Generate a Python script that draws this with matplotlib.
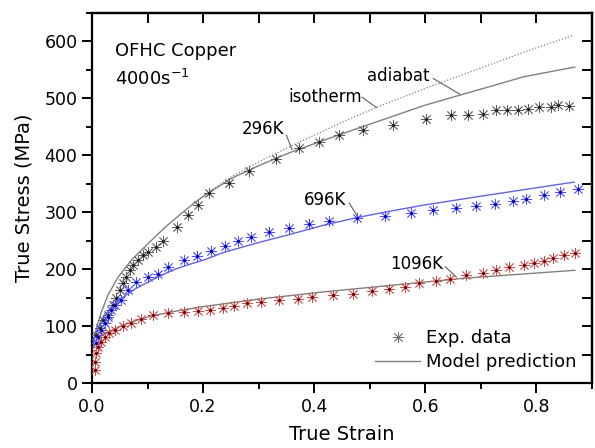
"""
True stress vs true strain for OFHC copper at 4000/s: experimental points
and model predictions at three temperatures.
"""

import matplotlib

matplotlib.use("Agg")
import matplotlib.pyplot as plt
from matplotlib.lines import Line2D
from matplotlib.ticker import MultipleLocator, FormatStrFormatter, NullFormatter

plt.rcParams["font.family"] = ["DejaVu Sans"]

# Experimental data (true strain, true stress in MPa)
strain_296 = [0.008, 0.014, 0.020, 0.029, 0.038, 0.044, 0.050, 0.056, 0.062, 0.068,
              0.074, 0.083, 0.092, 0.101, 0.116, 0.128, 0.153, 0.172, 0.190, 0.211,
              0.247, 0.283, 0.332, 0.373, 0.409, 0.445, 0.488, 0.541, 0.602, 0.646,
              0.676, 0.703, 0.727, 0.747, 0.767, 0.785, 0.804, 0.826, 0.838, 0.858]
stress_296 = [85, 97, 110, 119, 137, 149, 163, 175, 186, 198,
              207, 216, 225, 230, 239, 249, 274, 296, 313, 333,
              351, 372, 393, 412, 423, 435, 444, 454, 464, 470,
              471, 473, 479, 480, 480, 482, 484, 484, 488, 487]

strain_696 = [0.008, 0.011, 0.017, 0.023, 0.029, 0.035, 0.041, 0.053, 0.065, 0.080,
              0.101, 0.119, 0.137, 0.166, 0.189, 0.214, 0.240, 0.263, 0.286, 0.319,
              0.355, 0.391, 0.427, 0.477, 0.528, 0.575, 0.613, 0.655, 0.692, 0.725,
              0.757, 0.782, 0.813, 0.842, 0.874]
stress_696 = [70, 81, 93, 105, 116, 128, 137, 146, 164, 178,
              187, 192, 203, 216, 223, 232, 241, 249, 256, 265,
              272, 279, 284, 289, 293, 298, 304, 307, 311, 314,
              319, 324, 330, 335, 340]

strain_1096 = [0.005, 0.006, 0.008, 0.011, 0.017, 0.023, 0.030, 0.041, 0.056, 0.071,
               0.089, 0.110, 0.137, 0.166, 0.191, 0.213, 0.235, 0.256, 0.279, 0.304,
               0.337, 0.371, 0.396, 0.434, 0.469, 0.504, 0.535, 0.564, 0.588, 0.620,
               0.645, 0.674, 0.703, 0.728, 0.751, 0.778, 0.796, 0.813, 0.829, 0.849,
               0.869]
stress_1096 = [23, 37, 52, 64, 72, 81, 87, 93, 100, 106,
               113, 119, 123, 125, 126, 129, 132, 136, 140, 143,
               146, 148, 151, 154, 157, 161, 165, 168, 175, 179,
               182, 189, 193, 199, 203, 207, 211, 214, 220, 224,
               228]

# Model predictions
model_strain_296 = [0.001, 0.005, 0.011, 0.017, 0.029, 0.047, 0.071, 0.101, 0.131, 0.161,
                    0.185, 0.211, 0.254, 0.303, 0.357, 0.416, 0.477, 0.537, 0.596, 0.663,
                    0.717, 0.777, 0.869]
model_stress_296 = [62, 86, 106, 125, 155, 186, 216, 245, 273, 298,
                    317, 335, 361, 383, 405, 426, 447, 467, 487, 506,
                    521, 538, 555]

iso_strain = [0.185, 0.211, 0.254, 0.303, 0.375, 0.45, 0.519, 0.609, 0.699, 0.78, 0.867]
iso_stress = [317, 336, 364, 390, 424, 458, 487, 521, 553, 582, 611]

model_strain_696 = [0.002, 0.01, 0.02, 0.035, 0.047, 0.077, 0.108, 0.144, 0.171, 0.204,
                    0.236, 0.297, 0.36, 0.416, 0.479, 0.537, 0.60, 0.699, 0.78, 0.868]
model_stress_696 = [72, 95, 115, 133, 145, 165, 181, 198, 207, 217,
                    229, 246, 262, 277, 291, 302, 313, 328, 340, 353]

model_strain_1096 = [0.001, 0.01, 0.025, 0.047, 0.077, 0.108, 0.144, 0.198, 0.297, 0.416,
                     0.533, 0.669, 0.869]
model_stress_1096 = [60, 78, 88, 98, 109, 118, 125, 134, 147, 160,
                     171, 184, 198]

star = (8, 2, 0)


def plot_exp(ax, x, y, spoke, centre):
    ax.plot(x, y, ls="none", marker=star, ms=8, mew=0.6, color=spoke, zorder=3)
    ax.plot(x, y, ls="none", marker="o", ms=2.2, mew=0, color=centre, zorder=4)


fig = plt.figure(figsize=(5.95, 4.48), dpi=100)
ax = fig.add_axes([92 / 595, 65 / 448, 500 / 595, 370 / 448])

ax.plot(model_strain_296, model_stress_296, color="#808080", lw=1.0, zorder=2)
ax.plot(iso_strain, iso_stress, color="#808080", lw=0.9, ls=(0, (1, 1.5)), zorder=2)
ax.plot(model_strain_696, model_stress_696, color="#6464dc", lw=1.0, zorder=2)
ax.plot(model_strain_1096, model_stress_1096, color="#808080", lw=1.0, zorder=2)

plot_exp(ax, strain_296, stress_296, "#606060", "#202020")
plot_exp(ax, strain_696, stress_696, "#5050ff", "#0000b0")
plot_exp(ax, strain_1096, stress_1096, "#c85050", "#700000")

ax.set_xlim(0, 0.9)
ax.set_ylim(0, 650)
ax.xaxis.set_major_locator(MultipleLocator(0.2))
ax.xaxis.set_minor_locator(MultipleLocator(0.1))
ax.yaxis.set_major_locator(MultipleLocator(100))
ax.yaxis.set_minor_locator(MultipleLocator(50))
ax.xaxis.set_major_formatter(FormatStrFormatter("%.1f"))

for side in ax.spines.values():
    side.set_linewidth(1.6)
ax.tick_params(which="both", direction="out", labelsize=12.5, width=1.4)
ax.tick_params(which="major", length=7)
ax.tick_params(which="minor", length=4.5)

# mirrored ticks pointing inwards on top and right
top = ax.secondary_xaxis("top")
top.xaxis.set_major_locator(MultipleLocator(0.1))
top.xaxis.set_major_formatter(NullFormatter())
top.tick_params(direction="in", length=7, width=1.4)
top.spines["top"].set_linewidth(1.6)
right = ax.secondary_yaxis("right")
right.yaxis.set_major_locator(MultipleLocator(50))
right.yaxis.set_major_formatter(NullFormatter())
right.tick_params(direction="in", length=7, width=1.4)
right.spines["right"].set_linewidth(1.6)

ax.set_xlabel("True Strain", fontsize=14, labelpad=7)
ax.set_ylabel("True Stress (MPa)", fontsize=14, labelpad=8)

ax.text(0.041, 584, "OFHC Copper", fontsize=13, va="center", ha="left")
ax.text(0.041, 535, "4000s$^{-1}$", fontsize=13, va="center", ha="left")

labels = [("isotherm", 0.420, 502, (0.486, 502), (0.512, 484)),
          ("adiabat", 0.551, 540, (0.614, 535), (0.663, 507)),
          ("296K", 0.308, 447, (0.350, 435), (0.360, 410)),
          ("696K", 0.420, 321, (0.463, 316), (0.479, 291)),
          ("1096K", 0.584, 209, (0.636, 204), (0.656, 186))]
for text, tx, ty, p0, p1 in labels:
    ax.text(tx, ty, text, fontsize=12, ha="center", va="center")
    ax.plot([p0[0], p1[0]], [p0[1], p1[1]], color="#606060", lw=0.8)

handles = [Line2D([], [], ls="none", marker=star, ms=8, mew=0.6, color="#707070"),
           Line2D([], [], color="#808080", lw=1.0)]
ax.legend(handles, ["Exp. data", "Model prediction"], loc="upper left",
          bbox_to_anchor=(0.566, 0.146), frameon=False, fontsize=13,
          handlelength=2.5, handletextpad=0.35, labelspacing=0.35,
          borderpad=0, borderaxespad=0)

fig.savefig("out.png", dpi=100)
